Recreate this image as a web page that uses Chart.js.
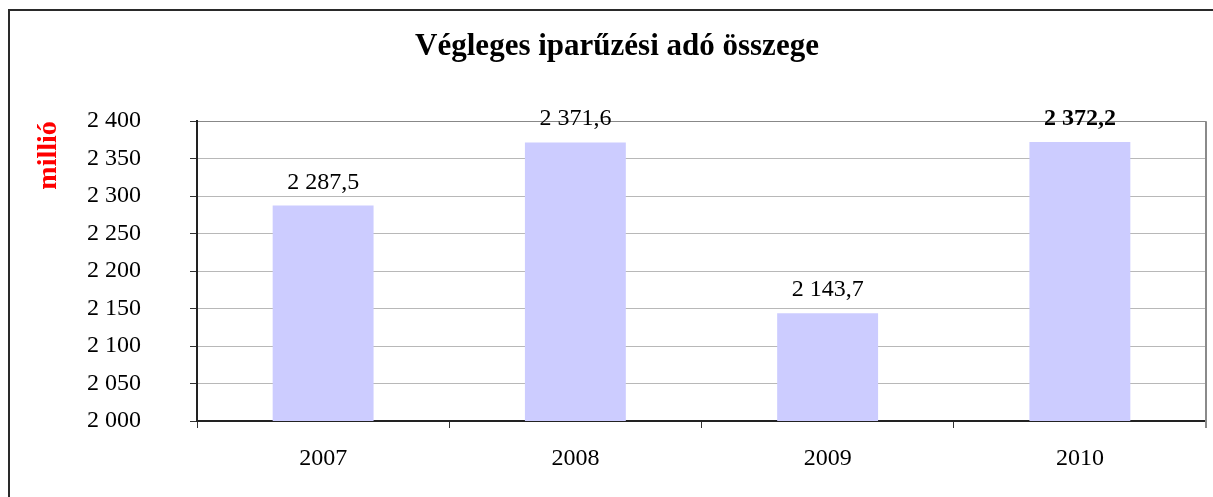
<!DOCTYPE html>
<html>
<head>
<meta charset="utf-8">
<title>Végleges iparűzési adó összege</title>
<script src="https://cdn.jsdelivr.net/npm/chart.js"></script>
<style>
  html, body { margin: 0; padding: 0; background: #fff; }
  #wrap { width: 1213px; height: 497px; position: relative; }
</style>
</head>
<body>
<div id="wrap"><canvas id="chart" width="1213" height="497"></canvas></div>
<script>
// data
const years = ["2007", "2008", "2009", "2010"];
const amounts = [2287.5, 2371.6, 2143.7, 2372.2];
const yMin = 2000;
const yMax = 2400;
const yStep = 50;

// "2 287,5" style numbers
function fmt(v, dec) {
  const s = v.toFixed(dec);
  const parts = s.split(".");
  const intPart = parts[0].replace(/\B(?=(\d{3})+(?!\d))/g, " ");
  return parts.length > 1 ? intPart + "," + parts[1] : intPart;
}

const frame = {
  id: "frame",
  beforeDraw(chart) {
    const c = chart.ctx;
    c.save();
    c.strokeStyle = "#2a2a2a";
    c.lineWidth = 2;
    c.strokeRect(9, 10, 1400, 700);
    c.restore();
  },
  afterDraw(chart) {
    const a = chart.chartArea, c = chart.ctx;
    c.save();
    c.strokeStyle = "#8a8a8a";
    c.lineWidth = 2;
    c.beginPath();
    c.moveTo(a.right, a.top);
    c.lineTo(a.right, a.bottom + 7);
    c.stroke();
    c.restore();
  }
};

const barLabels = {
  id: "barLabels",
  afterDatasetsDraw(chart) {
    const c = chart.ctx;
    const meta = chart.getDatasetMeta(0);
    c.save();
    c.fillStyle = "#000";
    c.textAlign = "center";
    c.textBaseline = "alphabetic";
    meta.data.forEach((bar, i) => {
      const bold = i === amounts.length - 1;
      c.font = (bold ? "bold " : "") + "24px 'Liberation Serif'";
      c.fillText(fmt(amounts[i], 1), bar.x, bar.y - 17);
    });
    c.restore();
  }
};

Chart.defaults.font.family = "'Liberation Serif', 'Times New Roman', serif";
Chart.defaults.color = "#000";

new Chart(document.getElementById("chart"), {
  type: "bar",
  data: {
    labels: years,
    datasets: [{
      data: amounts,
      backgroundColor: "#ccccff",
      borderWidth: 0,
      barPercentage: 0.4,
      categoryPercentage: 1.0
    }]
  },
  options: {
    responsive: false,
    animation: false,
    layout: { padding: { left: 28, right: 7, top: 10, bottom: 0 } },
    plugins: {
      legend: { display: false },
      tooltip: { enabled: false },
      title: {
        display: true,
        text: "Végleges iparűzési adó összege",
        font: { size: 31, weight: "bold" },
        color: "#000",
        padding: { top: 18, bottom: 56 }
      }
    },
    scales: {
      x: {
        offset: true,
        grid: {
          offset: true,
          drawOnChartArea: false,
          drawTicks: true,
          tickLength: 7,
          tickColor: "#333"
        },
        border: { color: "#222", width: 2 },
        ticks: { font: { size: 24 }, padding: 16 },
        afterFit(s) { s.height = 76; }
      },
      y: {
        min: yMin,
        max: yMax,
        ticks: {
          stepSize: yStep,
          font: { size: 24 },
          padding: 49,
          callback: v => fmt(v, 0)
        },
        grid: {
          color: ctx => (ctx.tick && ctx.tick.value === yMax ? "#888" : "#b8b8b8"),
          tickColor: "#333",
          tickLength: 7,
          lineWidth: 1
        },
        border: { color: "#222", width: 2 },
        title: {
          display: true,
          text: "millió",
          align: "end",
          color: "#ff0000",
          font: { size: 28, weight: "bold" },
          padding: { top: 4, bottom: 0 }
        },
        afterFit(s) { s.width = 169; }
      }
    }
  },
  plugins: [frame, barLabels]
});
</script>
</body>
</html>
